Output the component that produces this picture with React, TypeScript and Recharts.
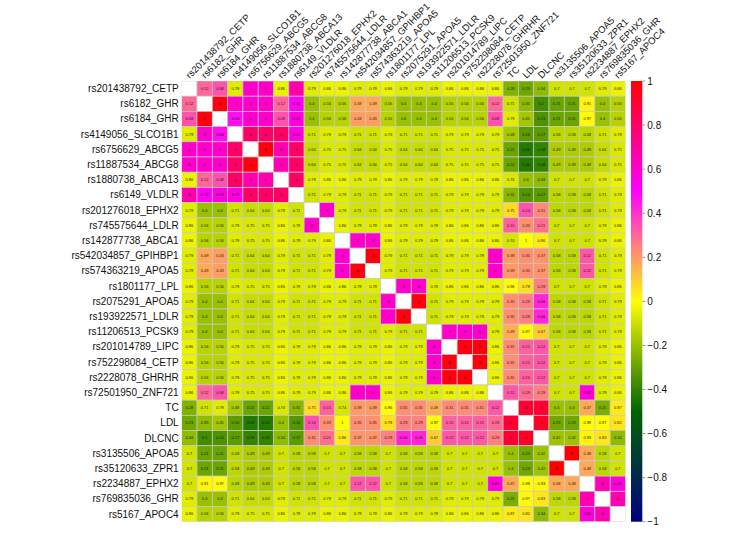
import React from 'react';
import { ScatterChart, Scatter, XAxis, YAxis, Customized } from 'recharts';

const LABELS = [
  'rs201438792_CETP', 'rs6182_GHR', 'rs6184_GHR', 'rs4149056_SLCO1B1', 'rs6756629_ABCG5',
  'rs11887534_ABCG8', 'rs1880738_ABCA13', 'rs6149_VLDLR', 'rs201276018_EPHX2', 'rs745575644_LDLR',
  'rs142877738_ABCA1', 'rs542034857_GPIHBP1', 'rs574363219_APOA5', 'rs1801177_LPL', 'rs2075291_APOA5',
  'rs193922571_LDLR', 'rs11206513_PCSK9', 'rs201014789_LIPC', 'rs752298084_CETP', 'rs2228078_GHRHR',
  'rs72501950_ZNF721', 'TC', 'LDL', 'DLCNC', 'rs3135506_APOA5', 'rs35120633_ZPR1', 'rs2234887_EPHX2',
  'rs769835036_GHR', 'rs5167_APOC4',
];

// p-values shown in cells, upper triangle: row i lists columns i+1 .. 28
const P_UPPER: number[][] = [
  [0.12, 0.08, 0.79, 0, 0, 0.86, 0, 0.79, 0.86, 0.86, 0.79, 0.79, 0.86, 0.79, 0.79, 0.79, 0.86, 0.86, 0.86, 0.86, 0.28, 0.23, 0.34, 0.7, 0.7, 0.7, 0.79, 0.86],
  [0, 0, 0, 0, 0.12, 0.02, 0.4, 0.56, 0.56, 0.49, 0.49, 0.56, 0.4, 0.4, 0.4, 0.56, 0.56, 0.56, 0.12, 0.71, 0.35, 0.1, 0.21, 0.21, 0.91, 0.4, 0.56],
  [0.04, 0, 0, 0.08, 0.01, 0.4, 0.56, 0.56, 0.43, 0.43, 0.56, 0.4, 0.4, 0.4, 0.56, 0.56, 0.56, 0.08, 0.79, 0.45, 0.13, 0.21, 0.21, 0.97, 0.4, 0.56],
  [0, 0, 0, 0.01, 0.71, 0.79, 0.79, 0.71, 0.71, 0.79, 0.71, 0.71, 0.71, 0.79, 0.79, 0.79, 0.79, 0.48, 0.16, 0.17, 0.58, 0.58, 0.58, 0.71, 0.79],
  [0, 0, 0, 0.64, 0.75, 0.75, 0.64, 0.64, 0.75, 0.64, 0.64, 0.64, 0.75, 0.75, 0.75, 0.75, 0.22, 0.06, 0.08, 0.49, 0.49, 0.49, 0.64, 0.75],
  [0, 0, 0.64, 0.75, 0.75, 0.64, 0.64, 0.75, 0.64, 0.64, 0.64, 0.75, 0.75, 0.75, 0.75, 0.22, 0.06, 0.08, 0.49, 0.49, 0.49, 0.64, 0.75],
  [0, 0.79, 0.86, 0.86, 0.79, 0.79, 0.86, 0.79, 0.79, 0.79, 0.86, 0.86, 0.86, 0.86, 0.74, 0.4, 0.34, 0.7, 0.7, 0.7, 0.79, 0.86],
  [0.71, 0.79, 0.79, 0.71, 0.71, 0.79, 0.71, 0.71, 0.71, 0.79, 0.79, 0.79, 0.79, 0.31, 0.14, 0.17, 0.58, 0.58, 0.58, 0.71, 0.79],
  [0, 0.79, 0.71, 0.71, 0.79, 0.71, 0.71, 0.71, 0.79, 0.79, 0.79, 0.79, 0.75, 0.14, 0.31, 0.58, 0.58, 0.58, 0.71, 0.79],
  [0.86, 0.79, 0.79, 0.86, 0.79, 0.79, 0.79, 0.86, 0.86, 0.86, 0.86, 0.15, 0.33, 0.21, 0.7, 0.7, 0.7, 0.79, 0.86],
  [0, 0, 0.86, 0.79, 0.79, 0.79, 0.86, 0.86, 0.86, 0.86, 0.74, 1, 0.86, 0.7, 0.7, 0.7, 0.79, 0.86],
  [0, 0.79, 0.71, 0.71, 0.71, 0.79, 0.79, 0.79, 0, 0.39, 0.35, 0.37, 0.58, 0.58, 0.12, 0.71, 0.79],
  [0.79, 0.71, 0.71, 0.71, 0.79, 0.79, 0.79, 0, 0.39, 0.35, 0.37, 0.58, 0.58, 0.12, 0.71, 0.79],
  [0, 0, 0.79, 0.86, 0.86, 0.86, 0.86, 0.96, 0.78, 0.29, 0.7, 0.7, 0.7, 0.79, 0.86],
  [0, 0.71, 0.79, 0.79, 0.79, 0.79, 0.35, 0.29, 0.06, 0.58, 0.58, 0.58, 0.71, 0.79],
  [0.71, 0.79, 0.79, 0.79, 0.79, 0.35, 0.29, 0.06, 0.58, 0.58, 0.58, 0.71, 0.79],
  [0, 0, 0, 0.79, 0.49, 0.97, 0.67, 0.58, 0.58, 0.58, 0.71, 0.79],
  [0, 0, 0.86, 0.31, 0.15, 0.12, 0.7, 0.7, 0.7, 0.79, 0.86],
  [0, 0.86, 0.31, 0.15, 0.12, 0.7, 0.7, 0.7, 0.79, 0.86],
  [0.86, 0.31, 0.15, 0.12, 0.7, 0.7, 0.7, 0.79, 0.86],
  [0.12, 0.19, 0.29, 0.7, 0.7, 0.01, 0.79, 0.86],
  [0, 0, 0.4, 0.4, 0.47, 0.25, 0.87],
  [0, 0.23, 0.23, 0.98, 0.97, 0.82],
  [0.42, 0.42, 0.93, 0.83, 0.34],
  [0, 0.48, 0.58, 0.7],
  [0.48, 0.58, 0.7],
  [0, 0.01],
  [0],
];

// correlation (cell colour), upper triangle: row i lists columns i+1 .. 28
const R_UPPER: number[][] = [
  [0.3, 0.34, -0.06, 0.6, 0.6, -0.04, 0.66, -0.06, -0.04, -0.04, -0.06, -0.06, -0.04, -0.06, -0.06, -0.06, -0.04, -0.04, -0.04, -0.04, -0.25, -0.28, -0.22, -0.09, -0.09, -0.09, -0.06, -0.04],
  [0.97, 0.6, 0.6, 0.6, 0.3, 0.52, -0.2, -0.14, -0.14, 0.17, 0.17, -0.14, -0.2, -0.2, -0.2, -0.14, -0.14, -0.14, 0.3, -0.09, -0.22, -0.37, -0.29, -0.29, 0.02, -0.2, -0.14],
  [0.47, 0.6, 0.6, 0.34, 0.56, -0.2, -0.14, -0.14, 0.19, 0.19, -0.14, -0.2, -0.2, -0.2, -0.14, -0.14, -0.14, 0.34, -0.06, -0.18, -0.35, -0.29, -0.29, 0.01, -0.2, -0.14],
  [0.8, 0.8, 0.8, 0.56, -0.09, -0.06, -0.06, -0.09, -0.09, -0.06, -0.09, -0.09, -0.09, -0.06, -0.06, -0.06, -0.06, -0.17, -0.32, -0.32, -0.13, -0.13, -0.13, -0.09, -0.06],
  [0.97, 0.65, 0.8, -0.11, -0.07, -0.07, -0.11, -0.11, -0.07, -0.11, -0.11, -0.11, -0.07, -0.07, -0.07, -0.07, -0.29, -0.43, -0.4, -0.16, -0.16, -0.16, -0.11, -0.07],
  [0.65, 0.8, -0.11, -0.07, -0.07, -0.11, -0.11, -0.07, -0.11, -0.11, -0.11, -0.07, -0.07, -0.07, -0.07, -0.29, -0.43, -0.4, -0.16, -0.16, -0.16, -0.11, -0.07],
  [0.8, -0.06, -0.04, -0.04, -0.06, -0.06, -0.04, -0.06, -0.06, -0.06, -0.04, -0.04, -0.04, -0.04, -0.07, -0.2, -0.22, -0.09, -0.09, -0.09, -0.06, -0.04],
  [-0.09, -0.06, -0.06, -0.09, -0.09, -0.06, -0.09, -0.09, -0.09, -0.06, -0.06, -0.06, -0.06, -0.23, -0.34, -0.32, -0.13, -0.13, -0.13, -0.09, -0.06],
  [0.6, -0.06, -0.09, -0.09, -0.06, -0.09, -0.09, -0.09, -0.06, -0.06, -0.06, -0.06, 0.07, 0.34, 0.23, -0.13, -0.13, -0.13, -0.09, -0.06],
  [-0.04, -0.06, -0.06, -0.04, -0.06, -0.06, -0.06, -0.04, -0.04, -0.04, -0.04, 0.31, 0.22, 0.28, -0.09, -0.09, -0.09, -0.06, -0.04],
  [0.6, 0.6, -0.04, -0.06, -0.06, -0.06, -0.04, -0.04, -0.04, -0.04, -0.08, 0, 0.04, -0.09, -0.09, -0.09, -0.06, -0.04],
  [0.97, -0.06, -0.09, -0.09, -0.09, -0.06, -0.06, -0.06, 0.6, 0.2, 0.22, 0.21, -0.13, -0.13, 0.33, -0.09, -0.06],
  [-0.06, -0.09, -0.09, -0.09, -0.06, -0.06, -0.06, 0.6, 0.2, 0.22, 0.21, -0.13, -0.13, 0.33, -0.09, -0.06],
  [0.6, 0.6, -0.06, -0.04, -0.04, -0.04, -0.04, 0.01, 0.06, 0.25, -0.09, -0.09, -0.09, -0.06, -0.04],
  [0.97, -0.09, -0.06, -0.06, -0.06, -0.06, 0.22, 0.25, 0.43, -0.13, -0.13, -0.13, -0.09, -0.06],
  [-0.09, -0.06, -0.06, -0.06, -0.06, 0.22, 0.25, 0.43, -0.13, -0.13, -0.13, -0.09, -0.06],
  [0.6, 0.6, 0.6, -0.06, 0.16, 0.01, 0.1, -0.13, -0.13, -0.13, -0.09, -0.06],
  [0.97, 0.97, -0.04, 0.23, 0.31, 0.33, -0.09, -0.09, -0.09, -0.06, -0.04],
  [0.97, -0.04, 0.23, 0.31, 0.33, -0.09, -0.09, -0.09, -0.06, -0.04],
  [-0.04, 0.23, 0.31, 0.33, -0.09, -0.09, -0.09, -0.06, -0.04],
  [0.33, 0.29, 0.25, -0.09, -0.09, 0.57, -0.06, -0.04],
  [0.9, 0.9, -0.2, -0.2, 0.17, -0.26, 0.04],
  [0.92, -0.28, -0.28, 0.005, 0.01, 0.05],
  [-0.19, -0.19, 0.02, 0.05, -0.22],
  [1, 0.17, -0.13, -0.09],
  [0.17, -0.13, -0.09],
  [0.65, 0.57],
  [0.65],
];

const COLORBAR_TICKS = [1, 0.8, 0.6, 0.4, 0.2, 0, -0.2, -0.4, -0.6, -0.8, -1];

// palette anchors: value -> rgb
const PALETTE: [number, number[]][] = [
  [-1, [0, 0, 128]],
  [-0.5, [0, 100, 0]],
  [0, [255, 255, 0]],
  [0.5, [255, 0, 255]],
  [1, [255, 0, 0]],
];

const W = 750;
const H = 536;
const MARGIN = { top: 0, right: 124.5, bottom: 14.3, left: 0 };
const Y_AXIS_W = 181.7;
const X_AXIS_H = 81;
const N = LABELS.length;
const PLOT_L = MARGIN.left + Y_AXIS_W;
const PLOT_R = W - MARGIN.right;
const PLOT_T = MARGIN.top + X_AXIS_H;
const PLOT_B = H - MARGIN.bottom;
const CELL_W = (PLOT_R - PLOT_L) / N;
const CELL_H = (PLOT_B - PLOT_T) / N;
const FONT = '"Liberation Sans", Arial, Helvetica, sans-serif';

function colorFor(v: number): string {
  const c = Math.max(-1, Math.min(1, v));
  for (let k = 0; k < PALETTE.length - 1; k++) {
    const [a, ca] = PALETTE[k];
    const [b, cb] = PALETTE[k + 1];
    if (c >= a && c <= b) {
      const t = (c - a) / (b - a);
      const m = ca.map((x, i) => Math.round(x + (cb[i] - x) * t));
      return `rgb(${m[0]},${m[1]},${m[2]})`;
    }
  }
  return '#fff';
}

const IDX = LABELS.map((_, i) => i);

type CellDatum = { x: number; y: number; p: number | null; r: number | null };
const CELLS: CellDatum[] = [];
for (let i = 0; i < N; i++) {
  for (let j = 0; j < N; j++) {
    if (i === j) {
      CELLS.push({ x: j, y: i, p: null, r: null });
    } else {
      const a = Math.min(i, j);
      const b = Math.max(i, j);
      CELLS.push({ x: j, y: i, p: P_UPPER[a][b - a - 1], r: R_UPPER[a][b - a - 1] });
    }
  }
}

const CellShape = (props: any) => {
  const { cx, cy, payload } = props;
  if (cx == null || cy == null) return null;
  const fill = payload.r == null ? '#ffffff' : colorFor(payload.r);
  return (
    <g>
      <rect
        x={cx - CELL_W / 2}
        y={cy - CELL_H / 2}
        width={CELL_W}
        height={CELL_H}
        fill={fill}
        stroke="#c8c8c8"
        strokeWidth={0.7}
      />
      {payload.p != null && (
        <text
          x={cx}
          y={cy}
          dy="0.35em"
          textAnchor="middle"
          fontSize={3.9}
          fontFamily={FONT}
          fill="#1a1a1a"
        >
          {String(payload.p)}
        </text>
      )}
    </g>
  );
};

const TopTick = (props: any) => {
  const { x, y, payload } = props;
  const tx = x + 0.5;
  const ty = y - 2;
  return (
    <text
      x={tx}
      y={ty}
      transform={`rotate(-45 ${tx} ${ty})`}
      textAnchor="start"
      fontSize={9.5}
      fontFamily={FONT}
      fill="#111"
    >
      {LABELS[payload.value]}
    </text>
  );
};

const LeftTick = (props: any) => {
  const { x, y, payload } = props;
  return (
    <text x={x - 3} y={y} dy="0.35em" textAnchor="end" fontSize={10} fontFamily={FONT} fill="#111">
      {LABELS[payload.value]}
    </text>
  );
};

const ColorBar = () => {
  const bx = PLOT_R + 5.5;
  const bw = 11.3;
  const span = PLOT_B - PLOT_T;
  const yOf = (v: number) => PLOT_T + ((1 - v) / 2) * span;
  return (
    <g>
      <defs>
        <linearGradient id="cbGrad" x1="0" y1="0" x2="0" y2="1">
          {PALETTE.slice().reverse().map(([v, c]) => (
            <stop key={v} offset={`${((1 - v) / 2) * 100}%`} stopColor={`rgb(${c[0]},${c[1]},${c[2]})`} />
          ))}
        </linearGradient>
      </defs>
      <rect x={bx} y={PLOT_T} width={bw} height={span} fill="url(#cbGrad)" />
      {COLORBAR_TICKS.map((t) => (
        <g key={t}>
          <line x1={bx + bw} x2={bx + bw + 3} y1={yOf(t)} y2={yOf(t)} stroke="#555" strokeWidth={0.6} />
          <text x={bx + bw + 5} y={yOf(t)} dy="0.35em" fontSize={10} fontFamily={FONT} fill="#111">
            {t < 0 ? `\u2212${Math.abs(t)}` : String(t)}
          </text>
        </g>
      ))}
    </g>
  );
};

export default function App() {
  return (
    <div style={{ position: 'absolute', left: 0, top: 0, width: W, height: H, background: '#fff' }}>
      <ScatterChart width={W} height={H} margin={MARGIN}>
        <XAxis
          type="number"
          dataKey="x"
          orientation="top"
          domain={[-0.5, N - 0.5]}
          ticks={IDX}
          interval={0}
          height={X_AXIS_H}
          tick={<TopTick />}
          tickSize={0}
          tickMargin={0}
          axisLine={false}
          tickLine={false}
          allowDataOverflow
        />
        <YAxis
          type="number"
          dataKey="y"
          domain={[-0.5, N - 0.5]}
          reversed
          ticks={IDX}
          interval={0}
          width={Y_AXIS_W}
          tick={<LeftTick />}
          tickSize={0}
          tickMargin={0}
          axisLine={false}
          tickLine={false}
          allowDataOverflow
        />
        <Scatter data={CELLS} shape={<CellShape />} isAnimationActive={false} />
        <Customized component={<ColorBar />} />
      </ScatterChart>
    </div>
  );
}
